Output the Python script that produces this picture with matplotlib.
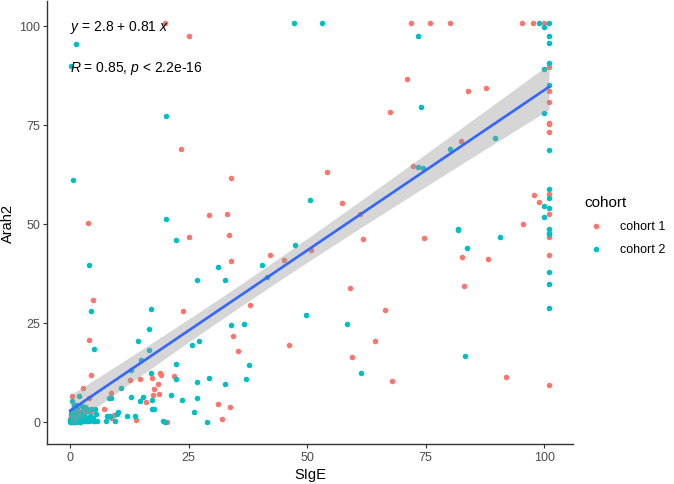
import numpy as np
import matplotlib
matplotlib.use('Agg')
import matplotlib.pyplot as plt

plt.rcParams['font.family'] = ['Liberation Sans', 'DejaVu Sans']
plt.rcParams['mathtext.fontset'] = 'custom'
plt.rcParams['mathtext.rm'] = 'Liberation Sans'
plt.rcParams['mathtext.it'] = 'Liberation Sans:italic'

# cohort 1 (red)
c1_x = [20.0, 25.0, 23.3, 34.0, 3.7, 29.3, 33.0,
        71.9, 75.9, 80.2, 95.3, 97.7, 99.9,
        101, 71.1, 101, 83.9, 87.7, 101, 67.5, 101, 101, 101, 82.4, 72.4, 54.2, 57.3, 61.1, 101, 97.9, 98.9, 101, 95.5,
        25.0, 33.5, 42.2, 45.1, 34.0, 4.9, 37.9, 23.7, 34.4, 3.9, 46.2, 35.3, 4.3, 18.9, 19.2, 21.9, 17.2, 12.6, 14.7,
        18.6, 2.6, 17.7, 8.5, 18.8, 17.4, 0.3, 3.9, 15.9, 31.2, 33.7, 4.4, 9.2, 8.6, 32.1, 13.8, 20.5,
        50.8, 61.8, 74.7, 82.6, 88.2, 101, 101, 101, 59.1, 83.1, 66.3, 64.2, 59.4, 67.9, 92.0, 7.1,
        0.2, 0.9, 1.7, 2.6, 3.5, 4.8, 0.1, 2.1, 3.9, 0.5, 1.4, 2.9, 0.0, 1.1, 3.2, 2.4]
c1_y = [100.8, 97.5, 68.8, 61.7, 50.2, 52.3, 52.4,
        100.8, 100.8, 100.8, 100.8, 100.8, 100.8,
        89.7, 86.7, 83.6, 83.5, 84.4, 80.8, 78.3, 75.6, 75.2, 73.1, 71.0, 64.6, 63.2, 55.2, 52.6, 57.6, 57.3, 55.4, 52.6, 49.9,
        46.7, 47.2, 42.0, 40.8, 40.6, 30.7, 29.5, 28.0, 21.7, 20.7, 19.4, 17.8, 11.8, 12.4, 11.7, 11.6, 11.1, 10.6, 10.7,
        9.6, 8.6, 8.3, 7.2, 7.1, 6.7, 6.4, 6.1, 4.9, 4.4, 3.6, 2.5, 1.7, 1.0, 0.7, 0.4, 0.0,
        43.4, 46.2, 46.5, 41.5, 41.1, 46.7, 42.0, 9.3, 33.9, 34.2, 28.3, 20.3, 16.3, 10.2, 11.2, 3.2,
        0.1, 0.9, 2.2, 3.3, 1.0, 0.2, 1.5, 0.4, 0.5, 0.0, 0.3, 0.8, 0.6, 0.0, 0.2, 1.9]

# cohort 2 (teal)
c2_x = [1.15, 0.1, 47.2, 20.2, 0.6, 20.2,
        53.1, 98.9, 101, 99.9, 73.3, 101, 101, 101, 99.9, 101, 74.0, 99.9, 89.6, 80.2, 101, 73.4, 74.4, 50.5,
        101, 101, 99.9, 101, 99.9, 81.7, 101,
        22.3, 47.4, 3.9, 40.5, 31.2, 41.6, 26.8, 32.6, 4.4, 17.1, 33.9, 36.6, 16.6, 14.4, 25.6, 27.2, 5.1, 16.7,
        15.0, 22.3, 37.7, 12.8, 17.1, 22.4, 29.3, 37.1, 26.8, 32.6, 10.8, 21.3, 12.9, 15.3, 26.8, 8.2, 8.7, 23.5,
        17.2, 14.7, 1.2, 17.2, 17.7, 26.2, 10.0, 9.9, 12.0, 13.6, 7.7, 8.3, 7.5, 9.5, 5.1, 5.7, 19.6, 20.0, 28.8,
        83.7, 81.7, 90.6, 101, 101, 101, 101, 101, 49.7, 58.3, 83.3, 61.4,
        1.1, 3.4, 4.4,
        0.0, 0.3, 0.6, 1.0, 1.3, 1.6, 2.0, 2.2, 2.5, 2.8, 3.0, 3.3, 3.6, 4.0, 4.2, 0.5, 0.8, 1.5, 2.4, 3.2,
        0.2, 1.1, 4.6, 5.2, 0.4, 1.8, 5.5, 0.1, 0.7, 1.9, 2.7, 3.8, 0.3, 1.4, 2.3, 0.9, 1.7, 3.1, 0.0, 0.5,
        2.0, 2.9, 0.2, 1.2, 3.5, 4.8, 0.8, 2.6]
c2_y = [95.5, 89.8, 100.8, 77.2, 61.0, 51.2,
        100.8, 100.8, 100.8, 99.7, 97.4, 97.4, 95.6, 90.6, 89.0, 85.0, 79.5, 78.0, 71.6, 68.8, 68.6, 64.4, 64.2, 56.1,
        58.9, 56.4, 54.5, 53.9, 51.8, 48.6, 48.6,
        45.8, 44.6, 39.6, 39.5, 39.2, 36.5, 35.9, 35.7, 28.0, 28.5, 24.5, 24.8, 23.5, 20.5, 19.4, 20.5, 18.3, 18.1,
        15.5, 14.7, 14.2, 13.0, 12.2, 10.7, 11.1, 10.8, 10.0, 9.4, 8.5, 6.8, 6.3, 6.2, 6.1, 5.9, 5.9, 5.6,
        5.5, 5.1, 4.3, 3.1, 3.1, 2.5, 2.5, 2.0, 1.4, 1.5, 1.5, 1.5, 0.2, 0.2, 0.2, 0.2, 0.2, 0.0, 0.0,
        43.8, 48.4, 46.7, 47.8, 47.4, 37.8, 34.8, 28.8, 26.9, 24.7, 16.7, 12.4,
        4.0, 3.4, 3.2,
        0.0, 0.5, 1.2, 0.2, 1.8, 0.8, 0.0, 2.5, 1.2, 0.3, 1.8, 0.6, 2.8, 0.1, 1.5, 3.0, 4.2, 3.5, 4.0, 3.6,
        2.2, 2.8, 0.4, 3.1, 5.2, 6.5, 2.0, 0.6, 0.1, 0.9, 0.2, 0.4, 1.0, 0.1, 0.7, 2.0, 0.3, 1.1, 0.3, 0.0,
        0.0, 1.4, 0.8, 0.0, 0.2, 1.0, 2.6, 0.5]

cohort_labels = ['cohort 1', 'cohort 2']
# fitted line as printed on the chart
fit_intercept = 2.8
fit_slope = 0.81
eq_text = r'$\it{y}$ = 2.8 + 0.81 $\it{x}$'
stat_text = r'$\it{R}$ = 0.85, $\it{p}$ < 2.2e-16'

# 95% confidence band around the fitted line
x_all = np.array(c1_x + c2_x)
y_all = np.array(c1_y + c2_y)
n = len(x_all)
resid = y_all - (fit_intercept + fit_slope * x_all)
s = np.sqrt(np.sum(resid ** 2) / (n - 2))
xm = x_all.mean()
sxx = np.sum((x_all - xm) ** 2)
xs = np.linspace(x_all.min(), x_all.max(), 80)
ys = fit_intercept + fit_slope * xs
se = s * np.sqrt(1 / n + (xs - xm) ** 2 / sxx)

fig = plt.figure(figsize=(6.74, 4.85), dpi=100)
ax = fig.add_axes([0.0697, 0.082, 0.78, 0.913])

ax.scatter(c1_x, c1_y, s=16, color='#F8766D', linewidths=0, label=cohort_labels[0], zorder=2)
ax.scatter(c2_x, c2_y, s=16, color='#00BFC4', linewidths=0, label=cohort_labels[1], zorder=2)
ax.fill_between(xs, ys - 1.97 * se, ys + 1.97 * se, color='#999999', alpha=0.4, linewidth=0, zorder=3)
ax.plot(xs, ys, color='#3366FF', linewidth=1.9, zorder=4)

ax.text(0.0, 99.8, eq_text, fontsize=10, va='center', ha='left', zorder=5)
ax.text(0.0, 89.6, stat_text, fontsize=10, va='center', ha='left', zorder=5)

ax.set_xlim(-4.9, 106)
ax.set_ylim(-5.7, 106.2)
ax.set_xticks([0, 25, 50, 75, 100])
ax.set_yticks([0, 25, 50, 75, 100])
for sp in ['top', 'right']:
    ax.spines[sp].set_visible(False)
for sp in ['left', 'bottom']:
    ax.spines[sp].set_color('#333333')
    ax.spines[sp].set_linewidth(1.0)
ax.tick_params(colors='#333333', labelcolor='#4D4D4D', labelsize=9, length=3, pad=2)
ax.set_xlabel('SIgE', fontsize=10.5, labelpad=3)
ax.set_ylabel('Arah2', fontsize=10.5, labelpad=3)

leg = ax.legend(loc='center left', bbox_to_anchor=(1.0, 0.495), frameon=False, title='cohort',
                fontsize=9, title_fontsize=11, markerscale=1.0, handletextpad=0.9, labelspacing=0.9)
leg._legend_box.align = 'left'

fig.savefig('out.png', dpi=100)
